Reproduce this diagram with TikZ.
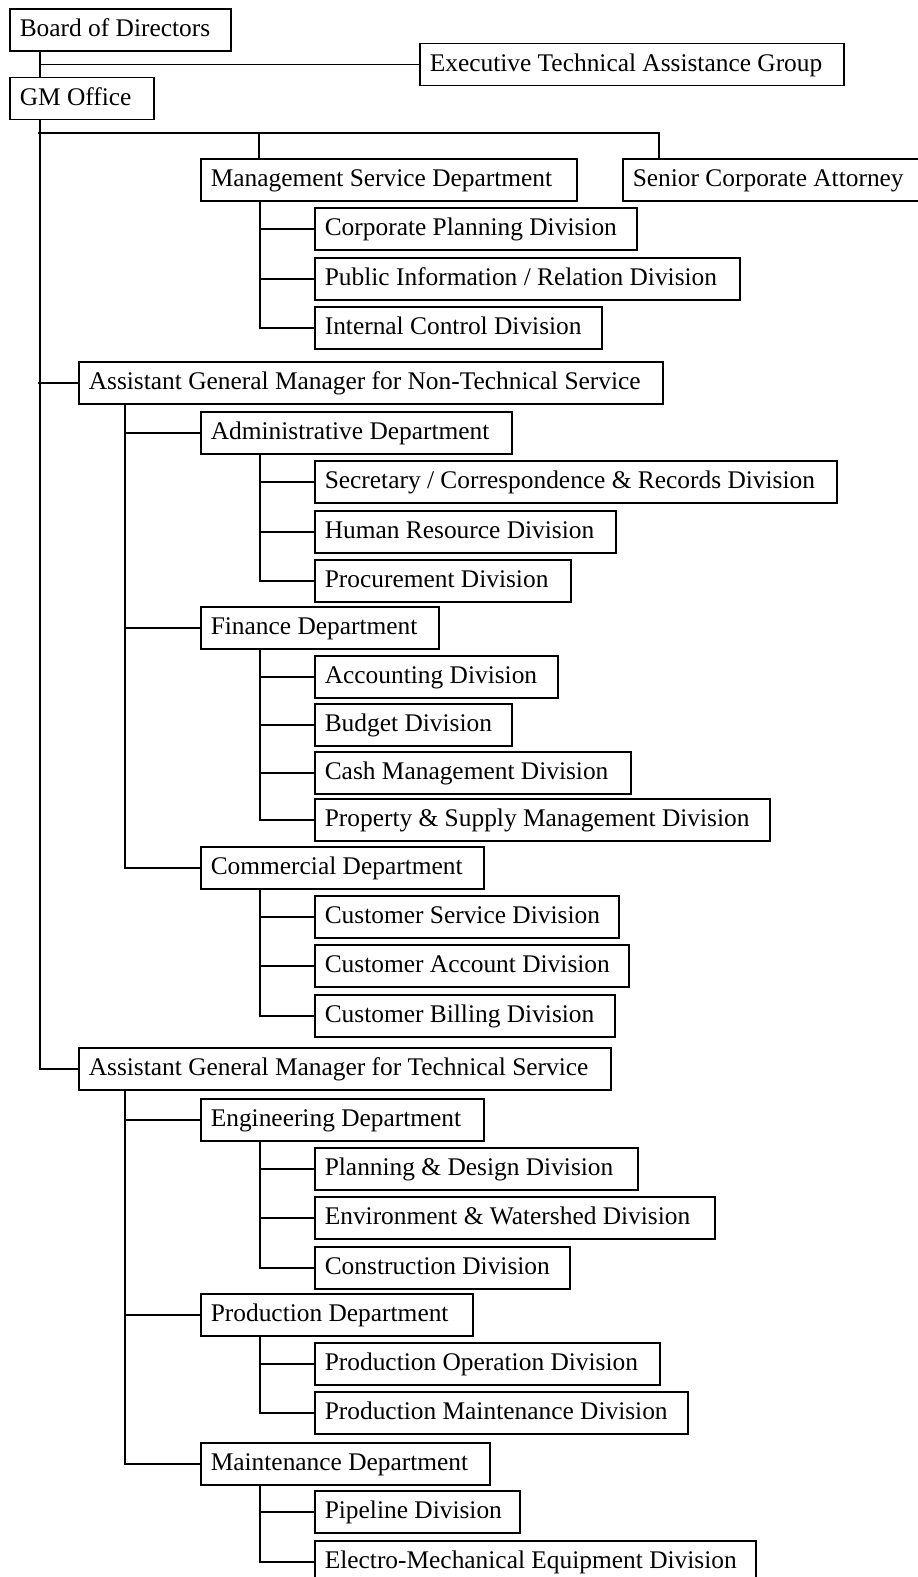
\documentclass[tikz,border=0pt]{standalone}
\usepackage{fontspec}
\setmainfont{Liberation Serif}
\begin{document}
\begin{tikzpicture}[x=1pt,y=-1pt,
  box/.style={draw, line width=1.6pt, anchor=west, minimum height=42pt,
    inner xsep=10pt, inner ysep=0pt, text height=18pt, text depth=5pt,
    align=flush left, font=\fontsize{25.4}{30}\selectfont},
  conn/.style={line width=1.6pt}]
\useasboundingbox (0,0) rectangle (918,1577);
% boxes
\node[box, text width=201pt] (board) at (9,30) {Board of Directors};
\node[box, text width=404pt] (exec) at (419,64.5) {Executive Technical Assistance Group};
\node[box, text width=124pt] (gm) at (9,98.5) {GM Office};
\node[box, text width=356pt] (msd) at (200,180) {Management Service Department};
\node[box, text width=288pt] (senior) at (622,180) {Senior Corporate Attorney};
\node[box, text width=302pt] (cpd) at (314,229) {Corporate Planning Division};
\node[box, text width=405pt] (pid) at (314,279) {Public Information / Relation Division};
\node[box, text width=267pt] (icd) at (314,328) {Internal Control Division};
\node[box, text width=564pt] (agmn) at (78,383) {Assistant General Manager for Non-Technical Service};
\node[box, text width=291pt] (adm) at (200,433) {Administrative Department};
\node[box, text width=502pt] (sec) at (314,482) {Secretary / Correspondence \& Records Division};
\node[box, text width=281pt] (hr) at (314,532) {Human Resource Division};
\node[box, text width=236pt] (proc) at (314,581) {Procurement Division};
\node[box, text width=218pt] (fin) at (200,628) {Finance Department};
\node[box, text width=223pt] (acc) at (314,677) {Accounting Division};
\node[box, text width=177pt] (bud) at (314,725) {Budget Division};
\node[box, text width=296pt] (cash) at (314,773) {Cash Management Division};
\node[box, text width=435pt] (prop) at (314,820) {Property \& Supply Management Division};
\node[box, text width=263pt] (com) at (200,868) {Commercial Department};
\node[box, text width=284pt] (cs) at (314,917) {Customer Service Division};
\node[box, text width=294pt] (ca) at (314,966) {Customer Account Division};
\node[box, text width=280pt] (cb) at (314,1016) {Customer Billing Division};
\node[box, text width=512pt] (agmt) at (78,1069) {Assistant General Manager for Technical Service};
\node[box, text width=263pt] (eng) at (200,1120) {Engineering Department};
\node[box, text width=303pt] (plan) at (314,1169) {Planning \& Design Division};
\node[box, text width=380pt] (env) at (314,1218) {Environment \& Watershed Division};
\node[box, text width=235pt] (con) at (314,1268) {Construction Division};
\node[box, text width=252pt] (prod) at (200,1315) {Production Department};
\node[box, text width=325pt] (po) at (314,1364) {Production Operation Division};
\node[box, text width=353pt] (pm) at (314,1413) {Production Maintenance Division};
\node[box, text width=269pt] (mnt) at (200,1464) {Maintenance Department};
\node[box, text width=185pt] (pipe) at (314,1512) {Pipeline Division};
\node[box, text width=421pt] (elec) at (314,1562) {Electro-Mechanical Equipment Division};
% top connectors
\draw[conn] ([xshift=31pt]board.south west) -- ([xshift=31pt]gm.north west);
\draw[conn] ([xshift=31pt]board.south west |- exec.west) -- (exec.west);
\draw[conn] ([xshift=31pt]gm.south west) |- (agmt.west);
\coordinate (bus) at (38,133);
\draw[conn] (bus) -| ([xshift=37pt]senior.north west);
\draw[conn] ([xshift=59pt]msd.north west |- bus) -- ([xshift=59pt]msd.north west);
\draw[conn] (agmn.west -| bus) -- (agmn.west);
% management service
\draw[conn] ([xshift=60pt]msd.south west) |- (icd.west);
\draw[conn] ([xshift=60pt]msd.south west |- cpd.west) -- (cpd.west);
\draw[conn] ([xshift=60pt]msd.south west |- pid.west) -- (pid.west);
% non-technical
\draw[conn] ([xshift=47pt]agmn.south west) |- (com.west);
\draw[conn] ([xshift=47pt]agmn.south west |- adm.west) -- (adm.west);
\draw[conn] ([xshift=47pt]agmn.south west |- fin.west) -- (fin.west);
\draw[conn] ([xshift=60pt]adm.south west) |- (proc.west);
\draw[conn] ([xshift=60pt]adm.south west |- sec.west) -- (sec.west);
\draw[conn] ([xshift=60pt]adm.south west |- hr.west) -- (hr.west);
\draw[conn] ([xshift=60pt]fin.south west) |- (prop.west);
\draw[conn] ([xshift=60pt]fin.south west |- acc.west) -- (acc.west);
\draw[conn] ([xshift=60pt]fin.south west |- bud.west) -- (bud.west);
\draw[conn] ([xshift=60pt]fin.south west |- cash.west) -- (cash.west);
\draw[conn] ([xshift=60pt]com.south west) |- (cb.west);
\draw[conn] ([xshift=60pt]com.south west |- cs.west) -- (cs.west);
\draw[conn] ([xshift=60pt]com.south west |- ca.west) -- (ca.west);
% technical
\draw[conn] ([xshift=47pt]agmt.south west) |- (mnt.west);
\draw[conn] ([xshift=47pt]agmt.south west |- eng.west) -- (eng.west);
\draw[conn] ([xshift=47pt]agmt.south west |- prod.west) -- (prod.west);
\draw[conn] ([xshift=60pt]eng.south west) |- (con.west);
\draw[conn] ([xshift=60pt]eng.south west |- plan.west) -- (plan.west);
\draw[conn] ([xshift=60pt]eng.south west |- env.west) -- (env.west);
\draw[conn] ([xshift=60pt]prod.south west) |- (pm.west);
\draw[conn] ([xshift=60pt]prod.south west |- po.west) -- (po.west);
\draw[conn] ([xshift=60pt]mnt.south west) |- (elec.west);
\draw[conn] ([xshift=60pt]mnt.south west |- pipe.west) -- (pipe.west);
\end{tikzpicture}
\end{document}
